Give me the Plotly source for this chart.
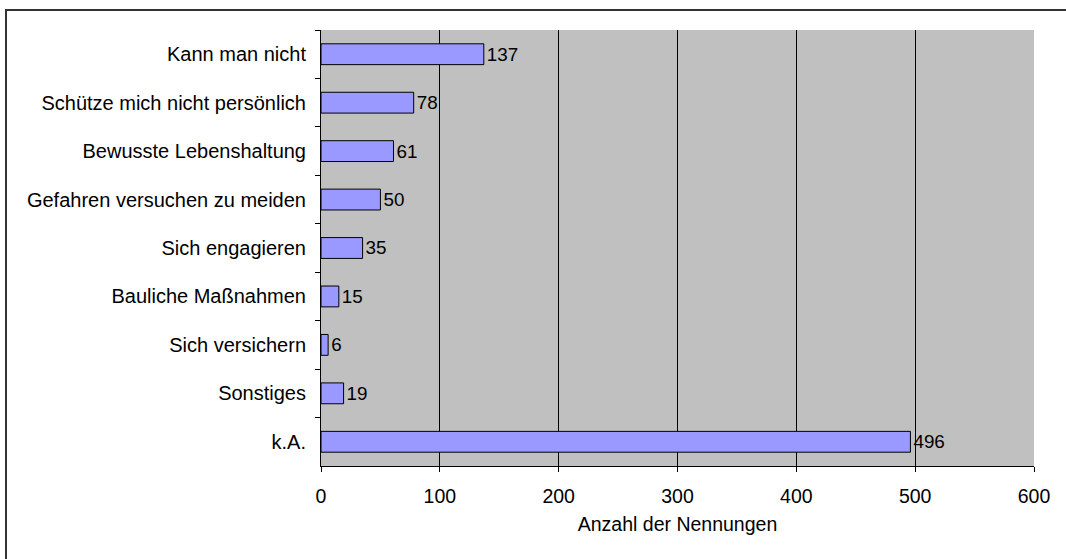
import plotly.graph_objects as go

categories = ["Kann man nicht", "Schütze mich nicht persönlich", "Bewusste Lebenshaltung",
              "Gefahren versuchen zu meiden", "Sich engagieren", "Bauliche Maßnahmen",
              "Sich versichern", "Sonstiges", "k.A."]
values = [137, 78, 61, 50, 35, 15, 6, 19, 496]
x_ticks = [0, 100, 200, 300, 400, 500, 600]
x_title = "Anzahl der Nennungen"

font = "Liberation Sans, Arial, sans-serif"

fig = go.Figure(go.Bar(
    y=categories, x=values, orientation="h",
    marker=dict(color="#9999FF", line=dict(color="#000000", width=1)),
    width=0.43,
    text=[str(v) for v in values], textposition="outside",
    textfont=dict(family=font, size=19, color="#000"),
    cliponaxis=False,
))

fig.update_layout(
    width=1066, height=559,
    margin=dict(l=321, r=32, t=30, b=93),
    paper_bgcolor="white", plot_bgcolor="#C0C0C0",
    font=dict(family=font, size=19.5, color="#000"),
    showlegend=False,
    bargap=0.57,
    xaxis=dict(range=[0, 600], tickvals=x_ticks, ticktext=[str(t) for t in x_ticks],
               showgrid=True, gridcolor="#000000", gridwidth=1,
               showline=True, linecolor="#000000", linewidth=1,
               ticks="outside", ticklen=5, tickcolor="#000",
               tickfont=dict(size=19.5), ticklabelstandoff=8,
               title=dict(text=x_title, font=dict(size=19.5), standoff=10),
               zeroline=False),
    yaxis=dict(autorange="reversed", showline=True, linecolor="#000000", linewidth=1,
               ticks="outside", ticklen=5, tickcolor="#000", tickson="boundaries",
               tickfont=dict(size=20),
               ticklabelstandoff=10, showgrid=False),
    shapes=[dict(type="rect", xref="paper", yref="paper",
                 x0=-0.4418, x1=1.2, y0=-0.4, y1=1.0459,
                 line=dict(color="#333", width=2), fillcolor="rgba(0,0,0,0)", layer="below")],
)

fig.write_html("out.html", config={"displayModeBar": False},
               post_script="document.body.style.margin='0';")
